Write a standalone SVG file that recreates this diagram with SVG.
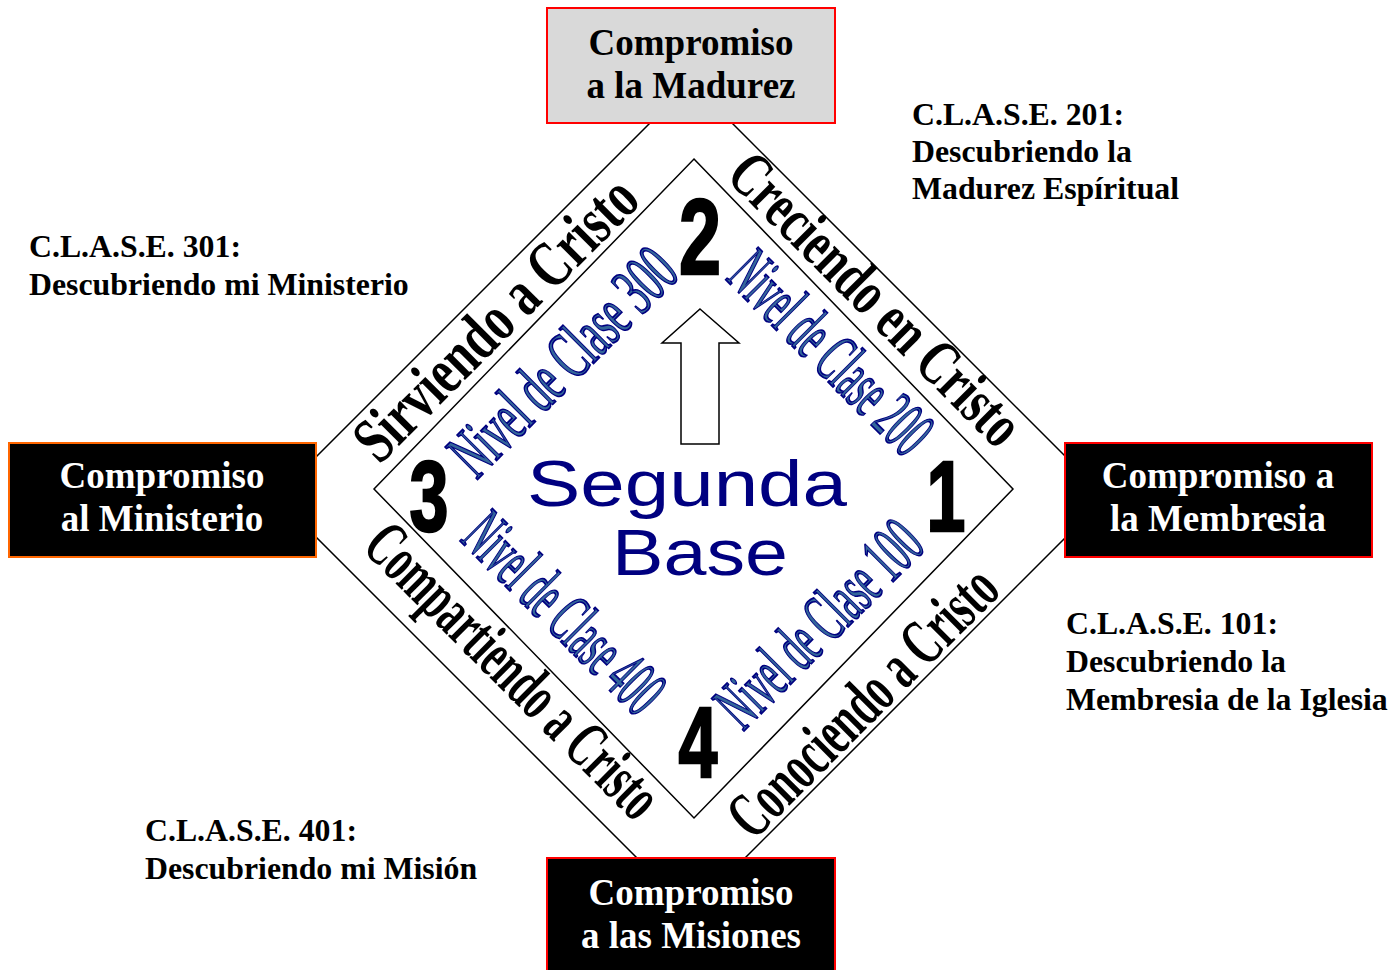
<svg xmlns="http://www.w3.org/2000/svg" width="1400" height="970" viewBox="0 0 1400 970">
<style>
.bx{font-family:"Liberation Serif","Times New Roman",serif;font-weight:bold;font-size:37px;text-anchor:middle}
.lbl{font-family:"Liberation Serif","Times New Roman",serif;font-weight:bold;font-size:31.8px;fill:#000}
.band{font-family:"Liberation Serif","Times New Roman",serif;font-weight:bold;fill:#000;text-anchor:middle}
.nivel{font-family:"Liberation Serif","Times New Roman",serif;font-size:70px;fill:#33669a;stroke:#000080;stroke-width:1.8;text-anchor:middle}
.num{font-family:"Liberation Sans",Arial,sans-serif;font-weight:bold;fill:#000;stroke:#000;stroke-width:2.5;text-anchor:middle}
.seg{font-family:"Liberation Sans",Arial,sans-serif;font-size:64px;fill:#000080}
.ln{fill:none;stroke:#000;stroke-width:1.5}
</style>
<rect width="1400" height="970" fill="#fff"/>
<g id="connectors">
  <polygon class="ln" points="691,82 1106,497 691,912 276,497"/>
</g>
<g id="inner-base">
  <polygon class="ln" points="694,159 1013,489 694,818 374,489"/>
</g>
<g id="arrow">
  <polygon points="700,309 739,343 719,343 719,444 681,444 681,343 662,343" fill="#fff" stroke="#000" stroke-width="1.5"/>
</g>
<g id="center-label">
  <text class="seg" x="527" y="506" textLength="320" lengthAdjust="spacingAndGlyphs">Segunda</text>
  <text class="seg" x="612" y="575" textLength="176" lengthAdjust="spacingAndGlyphs">Base</text>
</g>
<g id="numbers">
  <text class="num" font-size="108" transform="translate(700,274) scale(0.7,1)">2</text>
  <text class="num" font-size="100" transform="translate(429,531) scale(0.7,1)">3</text>
  <text class="num" font-size="100" transform="translate(946,531) scale(0.7,1)">1</text>
  <text class="num" font-size="100" transform="translate(698,777) scale(0.7,1)">4</text>
</g>
<g id="bands">
  <text class="band" font-size="66" transform="translate(511,334) rotate(-45)" textLength="372" lengthAdjust="spacingAndGlyphs">Sirviendo a Cristo</text>
  <text class="band" font-size="64" transform="translate(861,314) rotate(45)" textLength="386" lengthAdjust="spacingAndGlyphs">Creciendo en Cristo</text>
  <text class="band" font-size="66" transform="translate(498,686) rotate(45)" textLength="388" lengthAdjust="spacingAndGlyphs">Compartiendo a Cristo</text>
  <text class="band" font-size="66" transform="translate(878,717) rotate(-45)" textLength="352" lengthAdjust="spacingAndGlyphs">Conociendo a Cristo</text>
</g>
<g id="niveles">
  <text class="nivel" transform="translate(579,378) rotate(-45)" textLength="290" lengthAdjust="spacingAndGlyphs">Nivel de Clase 300</text>
  <text class="nivel" transform="translate(815,369) rotate(45)" textLength="255" lengthAdjust="spacingAndGlyphs">Nivel de Clase 200</text>
  <text class="nivel" transform="translate(835,640) rotate(-45)" textLength="260" lengthAdjust="spacingAndGlyphs">Nivel de Clase 100</text>
  <text class="nivel" transform="translate(548,629) rotate(45)" textLength="252" lengthAdjust="spacingAndGlyphs">Nivel de Clase 400</text>
</g>
<g id="box-madurez">
  <rect x="547" y="8" width="288" height="115" fill="#d9d9d9" stroke="#ff0000" stroke-width="2"/>
  <text class="bx" x="691" y="55" fill="#000">Compromiso</text>
  <text class="bx" x="691" y="98" fill="#000">a la Madurez</text>
</g>
<g id="box-ministerio">
  <rect x="9" y="443" width="307" height="114" fill="#000" stroke="#ff6600" stroke-width="2"/>
  <text class="bx" x="162" y="488" fill="#fff">Compromiso</text>
  <text class="bx" x="162" y="531" fill="#fff">al Ministerio</text>
</g>
<g id="box-membresia">
  <rect x="1065" y="443" width="307" height="114" fill="#000" stroke="#ff0000" stroke-width="2"/>
  <text class="bx" x="1218" y="488" fill="#fff">Compromiso a</text>
  <text class="bx" x="1218" y="531" fill="#fff">la Membresia</text>
</g>
<g id="box-misiones">
  <rect x="547" y="858" width="288" height="120" fill="#000" stroke="#ff0000" stroke-width="2"/>
  <text class="bx" x="691" y="905" fill="#fff">Compromiso</text>
  <text class="bx" x="691" y="948" fill="#fff">a las Misiones</text>
</g>
<g id="label-201">
  <text class="lbl" x="912" y="125">C.L.A.S.E. 201:</text>
  <text class="lbl" x="912" y="162">Descubriendo la</text>
  <text class="lbl" x="912" y="199">Madurez Espíritual</text>
</g>
<g id="label-301">
  <text class="lbl" x="29" y="257">C.L.A.S.E. 301:</text>
  <text class="lbl" x="29" y="295">Descubriendo mi Ministerio</text>
</g>
<g id="label-101">
  <text class="lbl" x="1066" y="634">C.L.A.S.E. 101:</text>
  <text class="lbl" x="1066" y="672">Descubriendo la</text>
  <text class="lbl" x="1066" y="710">Membresia de la Iglesia</text>
</g>
<g id="label-401">
  <text class="lbl" x="145" y="841">C.L.A.S.E. 401:</text>
  <text class="lbl" x="145" y="879">Descubriendo mi Misión</text>
</g>
</svg>
